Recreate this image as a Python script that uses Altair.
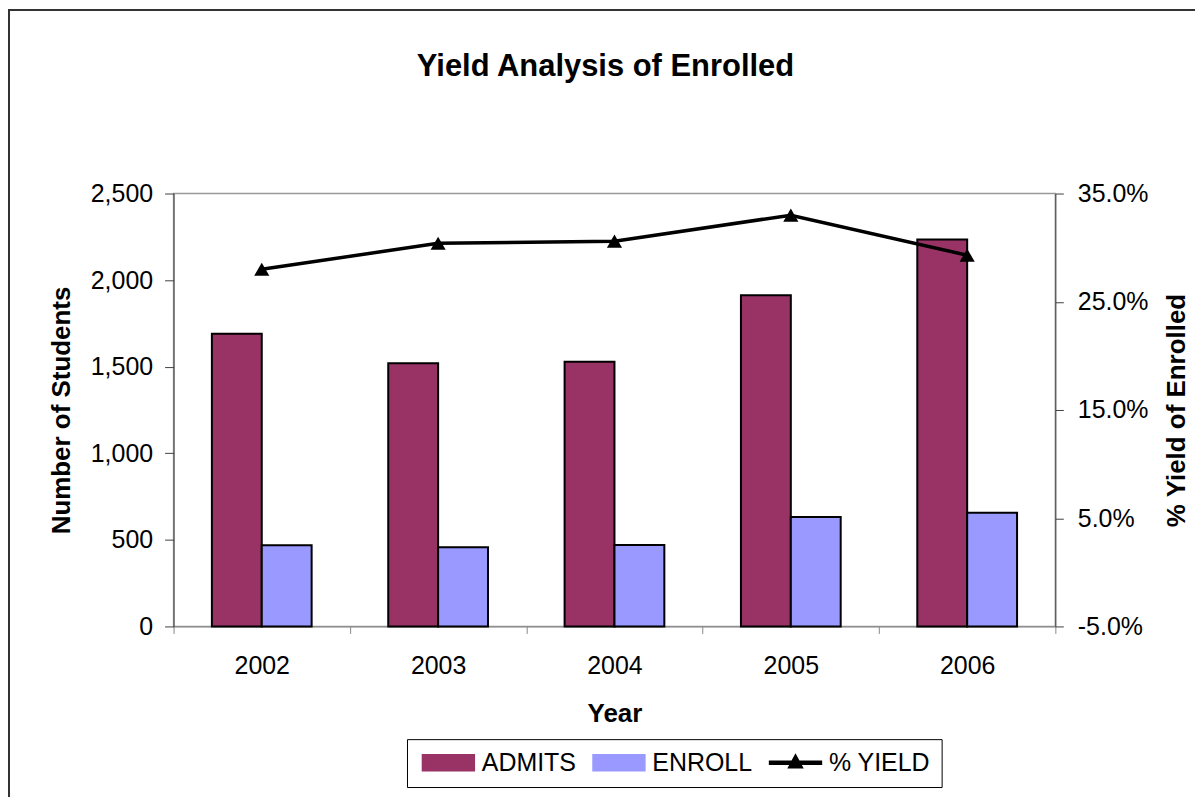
import altair as alt
import pandas as pd

years = ["2002", "2003", "2004", "2005", "2006"]
admits = [1690, 1520, 1529, 1912, 2234]
enroll = [469, 457, 470, 632, 657]
yield_pct = [28.0, 30.4, 30.6, 33.0, 29.3]

series_names = ["ADMITS", "ENROLL", "% YIELD"]
series_colors = ["#993366", "#9999FF", "#000000"]

bars_df = pd.DataFrame(
    [{"Year": y, "Series": "ADMITS", "Students": v} for y, v in zip(years, admits)]
    + [{"Year": y, "Series": "ENROLL", "Students": v} for y, v in zip(years, enroll)]
)
yield_df = pd.DataFrame(
    {"Year": years, "Series": "% YIELD", "Yield": [v / 100 for v in yield_pct]}
)

FONT = "Liberation Sans"

bar_path = "M-1,-1L5.5,-1L5.5,1L-1,1Z"
yield_path = "M-1,-0.19L5.5,-0.19L5.5,0.19L-1,0.19Z M2.25,-1L3.125,0.6L1.375,0.6Z"

legend = alt.Legend(
    orient="none",
    legendX=234,
    legendY=547,
    direction="horizontal",
    title=None,
    symbolSize=256,
    symbolType=alt.ExprRef(expr=f"datum.value === '% YIELD' ? '{yield_path}' : '{bar_path}'"),
    symbolStrokeColor="black",
    symbolStrokeWidth=1.5,
    symbolOpacity=1,
    labelFont=FONT,
    labelFontSize=25,
    labelColor="black",
    labelOffset=39,
    labelLimit=400,
    columnPadding=12,
    padding=11,
    strokeColor="black",
    fillColor="white",
)

color = alt.Color(
    "Series:N",
    scale=alt.Scale(domain=series_names, range=series_colors),
    legend=legend,
)

bars = alt.Chart(bars_df).mark_bar(stroke="black", strokeWidth=2).encode(
    x=alt.X(
        "Year:N",
        title="Year",
        scale=alt.Scale(paddingInner=0, paddingOuter=0),
        axis=alt.Axis(
            labelAngle=0,
            tickBand="extent",
            tickSize=7,
            domainColor="#888888",
            tickColor="#888888",
            labelPadding=20,
            titlePadding=22,
        ),
    ),
    xOffset=alt.XOffset(
        "Series:N",
        scale=alt.Scale(domain=["ADMITS", "ENROLL"], paddingInner=0, paddingOuter=0.768),
    ),
    y=alt.Y(
        "Students:Q",
        title="Number of Students",
        scale=alt.Scale(domain=[0, 2500], nice=False),
        axis=alt.Axis(
            orient="left",
            values=[0, 500, 1000, 1500, 2000, 2500],
            labelExpr="format(datum.value, ',')",
            grid=False,
            tickSize=9,
            domainColor="#404040",
            tickColor="#404040",
            labelPadding=12,
            titlePadding=16,
        ),
    ),
    color=color,
)

line = alt.Chart(yield_df).mark_line(
    strokeWidth=3.5,
    point=alt.OverlayMarkDef(shape="triangle-up", size=230, filled=True, color="black", opacity=1),
).encode(
    x=alt.X("Year:N"),
    y=alt.Y(
        "Yield:Q",
        title="% Yield of Enrolled",
        scale=alt.Scale(domain=[-0.05, 0.35], nice=False),
        axis=alt.Axis(
            orient="right",
            values=[-0.05, 0.05, 0.15, 0.25, 0.35],
            labelExpr="replace(format(datum.value, '.1%'), '\u2212', '-')",
            grid=False,
            tickSize=8,
            domainColor="#404040",
            tickColor="#404040",
            labelPadding=14,
            titlePadding=42,
            titleAngle=270,
        ),
    ),
    color=alt.Color("Series:N"),
)

border = alt.Chart(alt.Data(values=[{"b": 1}])).mark_rect(
    fillOpacity=0, stroke="#333333", strokeWidth=2
).encode(
    x=alt.value(-165),
    x2=alt.value(1040),
    y=alt.value(-184),
    y2=alt.value(620),
)

chart = (
    alt.layer(bars, line, border)
    .resolve_scale(y="independent")
    .properties(
        width=884,
        height=434,
        background="white",
        autosize=alt.AutoSizeParams(type="none"),
        padding={"left": 166, "top": 185, "right": 140, "bottom": 170},
        title=alt.Title(
            "Yield Analysis of Enrolled",
            font=FONT,
            fontSize=31,
            fontWeight="bold",
            color="black",
            anchor="middle",
            frame="group",
            offset=-74,
            dx=-9,
        ),
    )
    .configure_axis(
        labelFont=FONT,
        labelFontSize=25,
        labelColor="black",
        titleFont=FONT,
        titleFontSize=26,
        titleFontWeight="bold",
        titleColor="black",
    )
    .configure_view(stroke="#999999", strokeWidth=1.5)
)

chart.save("out.html", embed_options={"renderer": "svg", "actions": False})
